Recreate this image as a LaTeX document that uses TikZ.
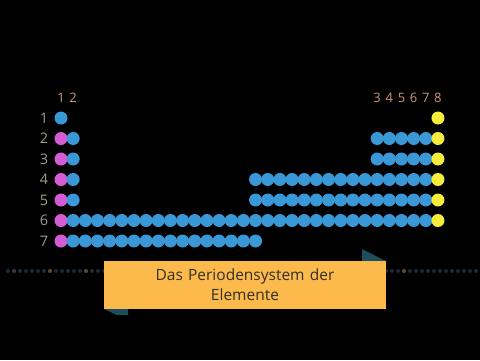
\documentclass[tikz,border=0pt]{standalone}
\usepackage{fontspec}
\setmainfont{Open Sans}
\usetikzlibrary{positioning}
\definecolor{ptblue}{RGB}{58,152,214}
\definecolor{ptpink}{RGB}{212,92,212}
\definecolor{ptyellow}{RGB}{246,236,60}
\definecolor{pthead}{RGB}{205,150,120}
\definecolor{ptrow}{RGB}{150,160,140}
\definecolor{ptorange}{RGB}{253,186,76}
\definecolor{pttext}{RGB}{50,48,36}
\definecolor{ptteal}{RGB}{30,78,94}
\definecolor{ptdot}{RGB}{28,42,58}
\definecolor{ptdotpink}{RGB}{70,46,62}
\definecolor{ptdotorange}{RGB}{88,72,44}

\begin{document}
\begin{tikzpicture}[x=1pt,y=-1pt,
  elem/.style={circle,inner sep=0pt,minimum size=13pt},
  rowlab/.style={text=ptrow,font=\fontsize{14.5}{16}\selectfont},
  grouplab/.style={text=pthead,font=\fontsize{13}{15}\selectfont},
  tinydot/.style={circle,inner sep=0pt,minimum size=4pt,fill=ptdot}]
  \fill[black] (0,0) rectangle (480,360);
  \useasboundingbox (0,0) rectangle (480,360);
  % faint row of dots behind the banner
  \foreach \i in {0,...,78}
    \node[tinydot] (d\i) at ({8+6*\i},271) {};
  \node[tinydot,fill=ptdotpink] at (d1) {};
  \node[tinydot,fill=ptdotorange] at (d7) {};
  \node[tinydot,fill=ptdotorange] at (d13) {};
  \node[tinydot,fill=ptdotorange] at (d66) {};
  % group numbers
  \node[grouplab] (g1) at (61,98) {1};
  \node[grouplab] (g2) at (73,98) {2};
  \foreach \g [count=\k from 26] in {3,...,8}
    \node[grouplab] (g\g) at ({61+12.16*\k},98) {\g};
  % period numbers
  \foreach \r in {1,...,7}
    \node[rowlab] (p\r) at (44,{118+20.5*(\r-1)}) {\r};
  % elements
  \newcommand{\elm}[3]{\node[elem,fill=#3] (e#1-#2) at ({61+12.16*#2},{118+20.5*(#1-1)}) {};}
  \elm{1}{0}{ptblue}
  \elm{1}{31}{ptyellow}
  \foreach \r in {2,...,7} {\elm{\r}{0}{ptpink}}
  \foreach \r in {2,...,5} {\elm{\r}{1}{ptblue}}
  \foreach \r in {2,3} {
    \foreach \c in {26,...,30} {\elm{\r}{\c}{ptblue}}
  }
  \foreach \r in {4,5} {
    \foreach \c in {16,...,30} {\elm{\r}{\c}{ptblue}}
  }
  \foreach \c in {1,...,30} {\elm{6}{\c}{ptblue}}
  \foreach \c in {1,...,16} {\elm{7}{\c}{ptblue}}
  \foreach \r in {2,...,6} {\elm{\r}{31}{ptyellow}}
  % title banner
  \fill[ptteal] (362,249) -- (386,261) -- (362,261) -- cycle;
  \fill[ptteal] (104,309) -- (128,309) -- (128,315) -- (117,315) -- cycle;
  \node[fill=ptorange,text=pttext,minimum width=282pt,minimum height=48pt,
    text width=270pt,align=center,inner sep=0pt,
    font=\fontsize{15.5}{20}\selectfont] (title) at (245,285)
    {Das Periodensystem der\\Elemente};
\end{tikzpicture}
\end{document}
